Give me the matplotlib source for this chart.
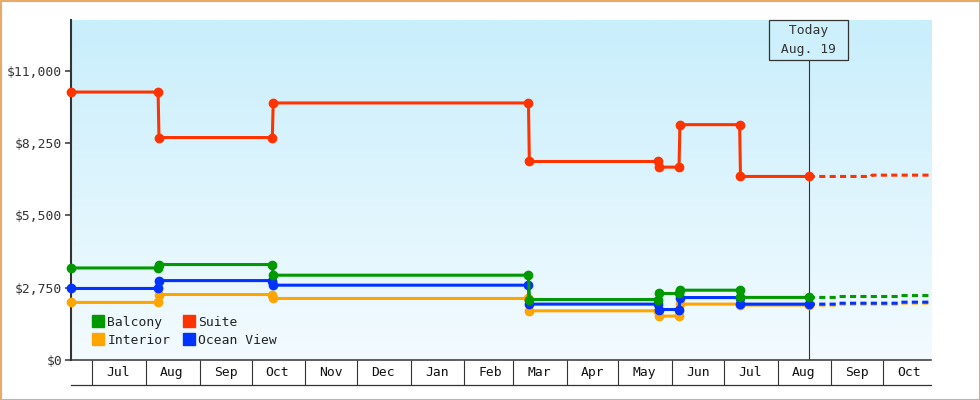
import matplotlib
matplotlib.use('Agg')
import matplotlib.pyplot as plt
import matplotlib.dates as mdates
import matplotlib.transforms as mtransforms
from matplotlib.colors import LinearSegmentedColormap
from matplotlib.lines import Line2D
from matplotlib.patches import Rectangle
import numpy as np
import pandas as pd

# cabin price history, one value per period between price changes
start_date = "2012-06-18 16:00"
end_date = "2013-10-28 14:00"
today = "2013-08-19"
change_dates = ["2012-08-08", "2012-10-13", "2013-03-10",
                "2013-05-24", "2013-06-05", "2013-07-10"]

balcony = [3500, 3630, 3225, 2300, 2530, 2655, 2380]
suite = [10190, 8460, 9775, 7550, 7335, 8950, 6980]
interior = [2190, 2490, 2340, 1870, 1670, 2125, 2090]
ocean_view = [2720, 3020, 2845, 2125, 1920, 2375, 2125]

# projected prices after today
balcony_fc_dates = ["2013-09-05", "2013-10-11"]
balcony_fc = [2415, 2450]
suite_fc_dates = ["2013-09-24"]
suite_fc = [7030]
interior_fc_dates = ["2013-09-05", "2013-10-11"]
interior_fc = [2125, 2165]
ocean_fc_dates = ["2013-09-05", "2013-10-11"]
ocean_fc = [2160, 2200]

y_ticks = [0, 2750, 5500, 8250, 11000]
y_max = 12930

DARK = '#333333'
FS = 9.4

plt.rcParams['font.family'] = ['DejaVu Sans Mono']
plt.rcParams['font.size'] = FS


def steps(t0, dates, values, t1, first):
    # old price up to the change day, new price half a day later
    xs = [pd.Timestamp(t0)]
    ys = [first]
    cur = first
    for d, v in zip(dates, values):
        xs += [pd.Timestamp(d), pd.Timestamp(d) + pd.Timedelta(hours=12)]
        ys += [cur, v]
        cur = v
    xs.append(pd.Timestamp(t1))
    ys.append(cur)
    return xs, ys


fig = plt.figure(figsize=(9.8, 4), dpi=100)
ax = fig.add_axes([71 / 980, 40 / 400, 860 / 980, 340 / 400])

# background gradient
cmap = LinearSegmentedColormap.from_list('bg', ['#f3fbff', '#c9eefc'])
grad = np.linspace(0, 1, 256).reshape(-1, 1)
ax.imshow(grad, extent=[0, 1, 0, 1], transform=ax.transAxes, origin='lower',
          aspect='auto', cmap=cmap, zorder=0)

series = [
    ("Interior", interior, interior_fc_dates, interior_fc, '#ffa500'),
    ("Ocean View", ocean_view, ocean_fc_dates, ocean_fc, '#0033ff'),
    ("Balcony", balcony, balcony_fc_dates, balcony_fc, '#009900'),
    ("Suite", suite, suite_fc_dates, suite_fc, '#ff3300'),
]

for i, (name, vals, fc_d, fc_v, col) in enumerate(series):
    xs, ys = steps(start_date, change_dates, vals[1:], today, vals[0])
    ax.plot(xs, ys, color=col, lw=2.2, marker='o', ms=6, mec=col,
            zorder=5 + i, clip_on=False)
    fx, fy = steps(today, fc_d, fc_v, end_date, vals[-1])
    ax.plot(fx, fy, color=col, lw=2.2, ls=(0, (2, 1.4)), zorder=4 + i)

ax.set_xlim(pd.Timestamp(start_date), pd.Timestamp(end_date))
ax.set_ylim(0, y_max)

# today marker
t = pd.Timestamp(today)
ax.axvline(t, ymin=0, ymax=300 / 340, color=DARK, lw=0.8, zorder=3)
trans = mtransforms.blended_transform_factory(ax.transData, ax.transAxes)
ax.text(t, 1 - 4 / 340, " Today \n Aug. 19 ", transform=trans, ha='center',
        va='top', multialignment='center', color=DARK, linespacing=1.6,
        bbox=dict(boxstyle='square,pad=0.3', fc='#cdf0fc', ec=DARK, lw=0.9),
        zorder=10)

# axes styling
for s in ['top', 'right']:
    ax.spines[s].set_visible(False)
ax.spines['left'].set_color(DARK)
ax.spines['left'].set_linewidth(1.5)
ax.spines['bottom'].set_color(DARK)
ax.spines['bottom'].set_linewidth(1.1)

ax.set_yticks(y_ticks)
ax.set_yticklabels([f"${v:,}" for v in y_ticks])
ax.tick_params(axis='y', length=4.3, width=1.1, color=DARK, pad=2,
               labelcolor=DARK, labelsize=FS)

ax.xaxis.set_major_locator(mdates.MonthLocator())
ax.xaxis.set_major_formatter(plt.NullFormatter())
ax.xaxis.set_minor_locator(mdates.MonthLocator(bymonthday=16))
ax.xaxis.set_minor_formatter(mdates.DateFormatter('%b'))
ax.tick_params(axis='x', which='major', length=18, width=0.8, color=DARK)
ax.tick_params(axis='x', which='minor', length=0, pad=4, labelsize=FS,
               labelcolor='#111111')
ax.plot([0, 1], [-25 / 340] * 2, transform=ax.transAxes, clip_on=False,
        color=DARK, lw=0.9)

# legend
order = [2, 0, 3, 1]
handles = [Line2D([], [], marker='s', ls='none', ms=8, color=series[k][4],
                  mec=series[k][4], label=series[k][0]) for k in order]
ax.legend(handles=handles, ncol=2, loc='lower left', frameon=False,
          bbox_to_anchor=(22 / 860, 13 / 340), borderpad=0, borderaxespad=0,
          handlelength=0.8, handletextpad=0.3, columnspacing=1.05,
          labelspacing=0.4, fontsize=FS, labelcolor='#222222')

# outer border
fig.patches.append(Rectangle((0, 0), 1, 1, transform=fig.transFigure,
                             fill=False, ec='#e8aa66', lw=2.2))

fig.savefig('out.png', dpi=100)
